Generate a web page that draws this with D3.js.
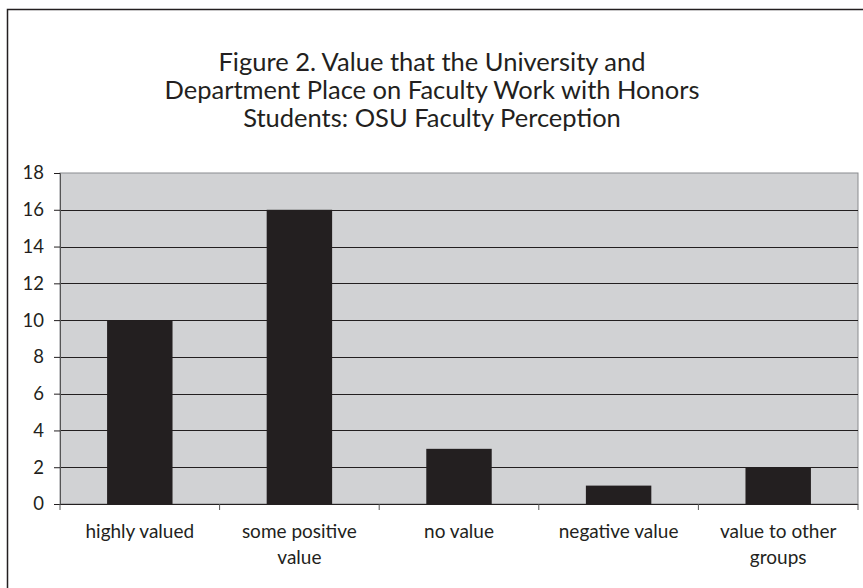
<!DOCTYPE html>
<html>
<head>
<meta charset="utf-8">
<script src="https://cdn.jsdelivr.net/npm/d3@7"></script>
<style>
  body { margin: 0; background: #fff; }
  svg text { font-family: Lato, "Open Sans", sans-serif; fill: #231f20; }
</style>
</head>
<body>
<div id="chart-area"></div>
<script>
var categories = [["highly valued"], ["some positive", "value"], ["no value"], ["negative value"], ["value to other", "groups"]];
var values = [10, 16, 3, 1, 2];
var yTicks = [0, 2, 4, 6, 8, 10, 12, 14, 16, 18];
var titleLines = ["Figure 2. Value that the University and", "Department Place on Faculty Work with Honors", "Students: OSU Faculty Perception"];

var W = 863, H = 588;
var margin = {left: 60, right: 5, top: 173, bottom: 84};
var width = W - margin.left - margin.right;
var height = H - margin.top - margin.bottom;

var svg = d3.select('#chart-area')
    .append('svg')
        .attr('width', W)
        .attr('height', H);

// outer frame (cropped at right and bottom in the original)
svg.append('rect')
    .attr('x', 7.5).attr('y', 9.5)
    .attr('width', W + 10).attr('height', H + 10)
    .attr('fill', 'none')
    .attr('stroke', '#231f20')
    .attr('stroke-width', 1.5);

svg.append('text')
    .attr('x', 432)
    .attr('text-anchor', 'middle')
    .attr('font-size', '25.5px')
    .selectAll('tspan').data(titleLines).enter()
    .append('tspan')
        .attr('x', 432)
        .attr('y', (d, i) => 71 + i * 28)
        .text(d => d);

var g = svg.append('g')
    .attr('transform', 'translate(' + margin.left + ', ' + margin.top + ')');

var x = d3.scaleBand()
    .domain(d3.range(values.length))
    .range([0, width])
    .paddingInner(0.59)
    .paddingOuter(0.295);

var xOuter = d3.scaleBand()
    .domain(d3.range(values.length))
    .range([0, width]);

var y = d3.scaleLinear()
    .domain([0, 18])
    .range([height, 0]);

g.append('rect')
    .attr('width', width)
    .attr('height', height)
    .attr('fill', '#d1d2d4')
    .attr('stroke', '#8a8c8f')
    .attr('stroke-width', 1);

g.selectAll('.grid').data(yTicks.filter(d => d > 0 && d < 18)).enter()
    .append('line')
        .attr('class', 'grid')
        .attr('x1', 0).attr('x2', width)
        .attr('y1', d => Math.round(y(d)) + 0.5)
        .attr('y2', d => Math.round(y(d)) + 0.5)
        .attr('stroke', '#231f20')
        .attr('stroke-width', 1.2);

g.selectAll('.bar').data(values).enter()
    .append('rect')
        .attr('class', 'bar')
        .attr('x', (d, i) => x(i))
        .attr('y', d => y(d))
        .attr('width', x.bandwidth())
        .attr('height', d => height - y(d))
        .attr('fill', '#231f20');

var yAxis = d3.axisLeft(y)
    .tickValues(yTicks)
    .tickSize(6)
    .tickPadding(10);

var ya = g.append('g').attr('class', 'left axis').call(yAxis);
ya.attr('font-size', 18);
ya.select('.domain').attr('stroke', '#555');
ya.selectAll('.tick line').attr('stroke', '#231f20');
ya.selectAll('text').style('font-size', '18.5px').attr('fill', '#231f20');

var xa = g.append('g')
    .attr('transform', 'translate(0, ' + height + ')');
xa.append('line')
    .attr('x1', 0).attr('x2', width)
    .attr('y1', 0.5).attr('y2', 0.5)
    .attr('stroke', '#231f20');
xa.selectAll('.xtick').data(d3.range(values.length + 1)).enter()
    .append('line')
        .attr('class', 'xtick')
        .attr('x1', d => d < values.length ? xOuter(d) : width)
        .attr('x2', d => d < values.length ? xOuter(d) : width)
        .attr('y1', 0).attr('y2', 6)
        .attr('stroke', '#555');

xa.selectAll('.xlabel').data(categories).enter()
    .append('text')
        .attr('class', 'xlabel')
        .attr('text-anchor', 'middle')
        .style('font-size', '19px')
        .each(function(d, i) {
            d3.select(this).selectAll('tspan').data(d).enter()
                .append('tspan')
                    .attr('x', xOuter(i) + xOuter.bandwidth() / 2)
                    .attr('y', (t, j) => 34 + j * 26)
                    .text(t => t);
        });
</script>
</body>
</html>
